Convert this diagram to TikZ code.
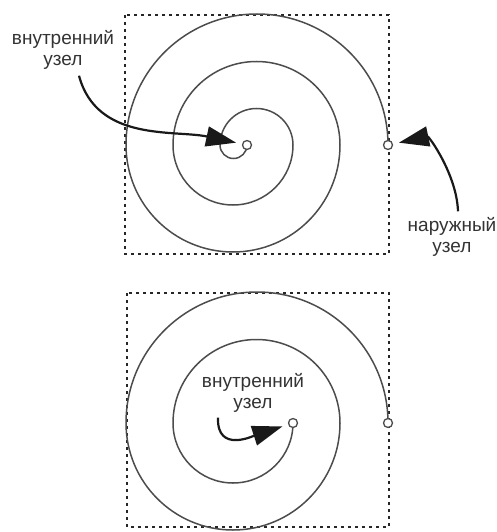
\documentclass[tikz,border=0pt]{standalone}
\usepackage{fontspec}
\setmainfont{Liberation Sans}
\usetikzlibrary{arrows.meta,positioning}

\begin{document}
\begin{tikzpicture}[
        x=1pt, y=-1pt,
        frame/.style={draw=black!85, line width=2.2pt, dash pattern=on 3pt off 4pt},
        spiral/.style={draw=black!70, line width=1.5pt},
        knot/.style={circle, draw=black!70, fill=white, line width=1.3pt, inner sep=0pt, minimum size=9pt},
        caption/.style={align=center, inner sep=0pt, text=black!80, font=\fontsize{19}{21}\selectfont},
        pointer/.style={draw=black!90, line width=2.2pt, -{Triangle[length=30pt,width=20pt]}}
    ]
    \useasboundingbox (0,0) rectangle (496,532);

    % Top: spiral with two inner turns
    \draw[frame] (125,15) rectangle (389,254);
    \draw[spiral] (388,145) coordinate (startA)
        arc[start angle=0, end angle=180, radius=131pt]
        arc[start angle=180, end angle=360, radius=107pt]
        arc[start angle=0, end angle=180, radius=83.5pt]
        arc[start angle=180, end angle=360, radius=60pt]
        arc[start angle=0, end angle=180, radius=36.5pt]
        arc[start angle=180, end angle=360, radius=13.5pt] coordinate (endA);
    \node[knot] (outerA) at (startA) {};
    \node[knot] (innerA) at (endA) {};

    \node[caption] (innerlabelA) at (63,50) {внутренний\\узел};
    \node[caption] (outerlabelA) at (452,237) {наружный\\узел};

    \draw[pointer, shorten >=6pt] (innerlabelA.south) ++(16,6) coordinate (tailA)
        to[out=285, in=168] (innerA);
    \draw[pointer, shorten >=6pt] (outerlabelA.north) ++(6,-6) coordinate (tailB)
        to[out=92, in=12] (outerA);

    % Bottom: same spiral, unwound
    \draw[frame] (127,293) rectangle (389,527);
    \draw[spiral] (388,423) coordinate (startB)
        arc[start angle=0, end angle=180, radius=131pt]
        arc[start angle=180, end angle=360, radius=107pt]
        arc[start angle=0, end angle=180, radius=83.5pt]
        arc[start angle=180, end angle=360, radius=60pt] coordinate (endB);
    \node[knot] (outerB) at (startB) {};
    \node[knot] (innerB) at (endB) {};

    \node[caption] (innerlabelB) at (253,393) {внутренний\\узел};
    \draw[pointer, shorten >=6pt] (innerlabelB.south) ++(-35,5) coordinate (tailC)
        to[out=268, in=198, looseness=1.3] (innerB);

\end{tikzpicture}
\end{document}
